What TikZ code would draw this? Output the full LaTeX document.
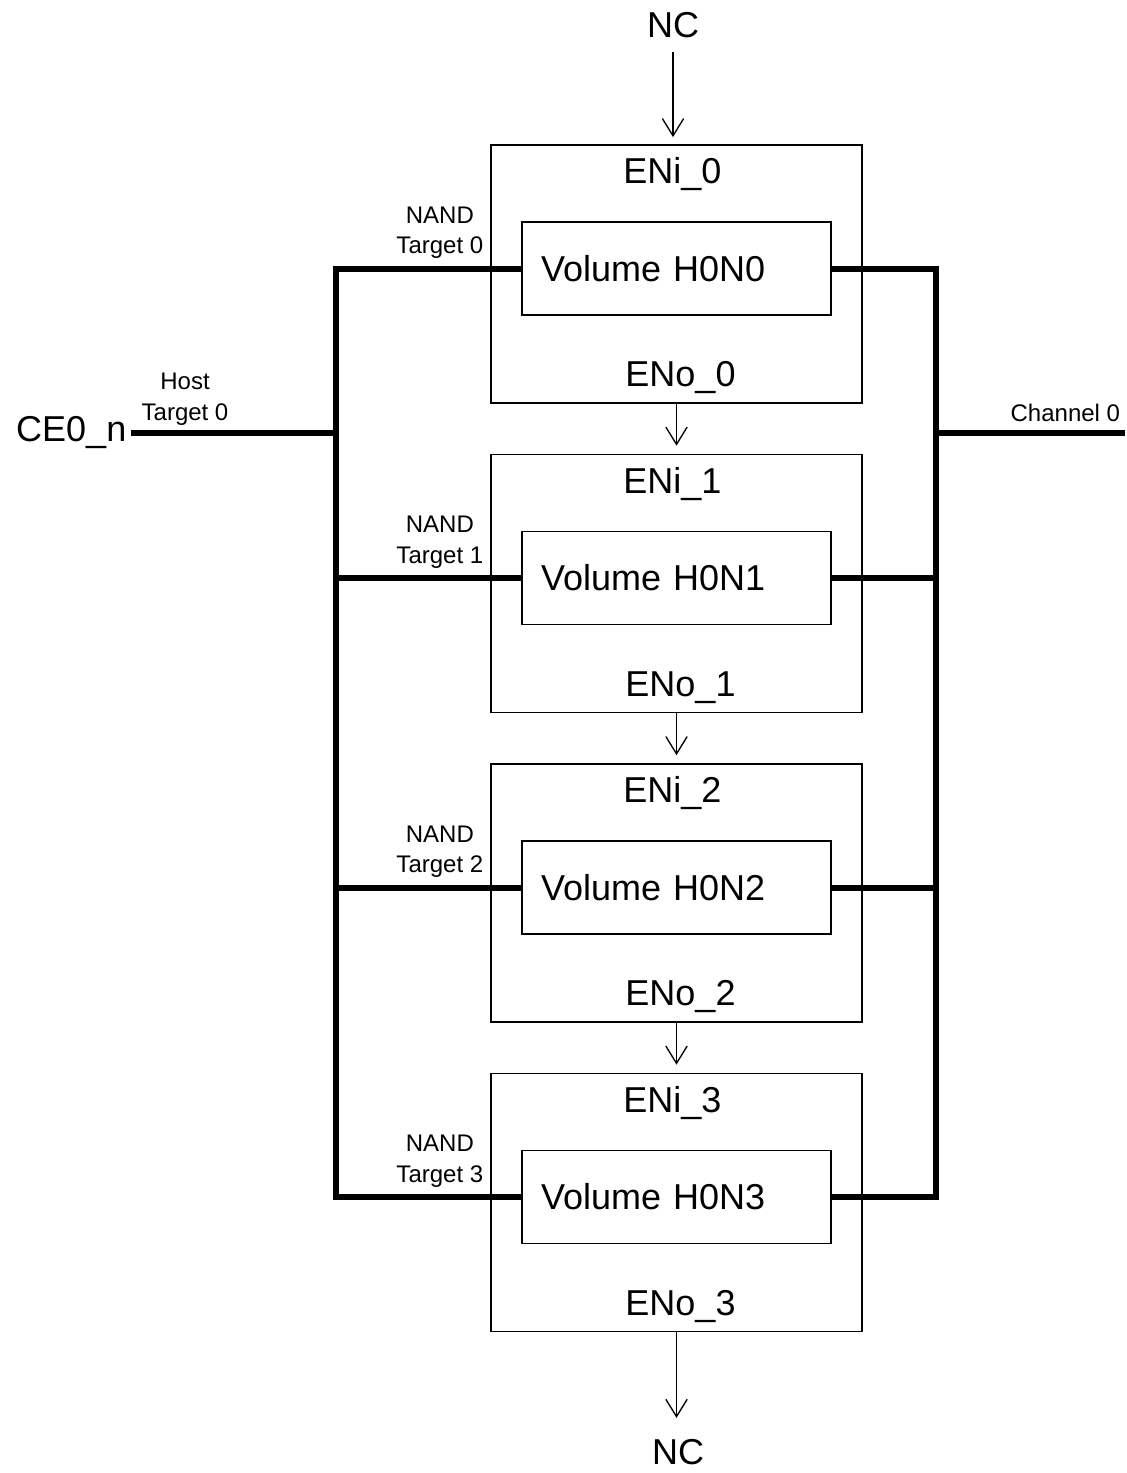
\documentclass[tikz,border=0pt]{standalone}
\usepackage{fontspec}
\setmainfont{Liberation Sans}
\usetikzlibrary{arrows.meta, positioning}

\newcommand{\bigtxt}{\fontsize{27}{32}\selectfont}
\newcommand{\smalltxt}{\fontsize{18}{23}\selectfont}

\begin{document}
\begin{tikzpicture}[x=0.75pt, y=-0.75pt, >={Straight Barb[length=13pt, width=16pt]},
    chip/.style={draw, line width=1.3pt, minimum width=278.25pt, minimum height=193.5pt, inner sep=0pt},
    vol/.style={draw, line width=1.3pt, minimum width=231.75pt, minimum height=69.75pt,
      text width=203.25pt, inner xsep=14.25pt, inner ysep=0pt, align=left, font=\bigtxt},
    big/.style={font=\bigtxt},
    small/.style={font=\smalltxt, align=center, inner sep=2pt},
    bus/.style={line width=4.5pt},
    sig/.style={->, line width=1pt}]
  \useasboundingbox (0,0) rectangle (1127,1473);

  % targets and volumes
  \foreach \i in {0,...,3} {
    \node[chip] (box\i) at (676.5, 274+309.5*\i) {};
    \node[vol] (vol\i) at (676.5, 268.5+309.5*\i) {Volume H0N\i};
    \node[big, anchor=base, xshift=-3pt] (eni\i) at ([yshift=-29.6pt]box\i.north) {ENi\_\i};
    \node[big, anchor=base, xshift=3pt] (eno\i) at ([yshift=13pt]box\i.south) {ENo\_\i};
    \node[small, anchor=south east, xshift=-3pt, yshift=5pt] (nt\i) at (box\i.west |- vol\i.west) {NAND\\Target \i};
  }

  % enable chain
  \node[big] (nctop) at (673,25) {NC};
  \node[big] (ncbot) at (678,1452) {NC};
  \draw[sig, shorten <=7.2pt, shorten >=5.25pt] (nctop.south) -- (nctop.south |- box0.north);
  \foreach \i [evaluate=\i as \j using int(\i+1)] in {0,1,2} {
    \draw[sig, shorten >=6pt] (box\i.south) -- (box\j.north);
  }
  \draw[sig, shorten >=12.5pt] (box3.south) -- (box3.south |- ncbot.north);

  % chip enable and channel buses
  \coordinate (lbus) at (336,0);
  \coordinate (rbus) at (936,0);
  \coordinate (chanend) at (1125,433);
  \node[big, anchor=east] (ce) at (131,433) {CE0\_n};
  \node[small, anchor=south, yshift=3.6pt] (host) at (185,433) {Host\\Target 0};
  \node[small, anchor=south east, yshift=6.6pt] (chan) at (1123,433) {Channel 0};

  \draw[bus] (vol0.west) -- (vol0.west -| lbus) -- (vol3.west -| lbus) -- (vol3.west);
  \draw[bus] (vol0.east) -- (vol0.east -| rbus) -- (vol3.east -| rbus) -- (vol3.east);
  \foreach \i in {1,2} {
    \draw[bus] (vol\i.west) -- (vol\i.west -| lbus);
    \draw[bus] (vol\i.east) -- (vol\i.east -| rbus);
  }
  \draw[bus] (ce.east) -- (ce.east -| lbus);
  \draw[bus] (chanend -| rbus) -- (chanend);
\end{tikzpicture}
\end{document}
